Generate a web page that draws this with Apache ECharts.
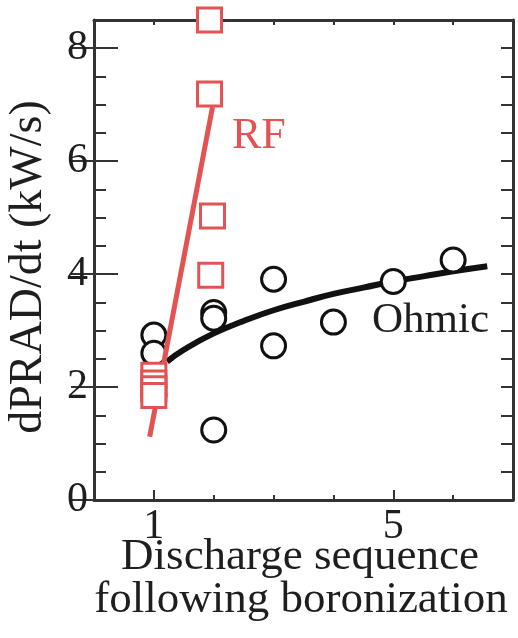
<!DOCTYPE html>
<html>
<head>
<meta charset="utf-8">
<script src="https://cdn.jsdelivr.net/npm/echarts@6/dist/echarts.min.js"></script>
<style>
html,body{margin:0;padding:0;background:#fff;}
#c{width:518px;height:638px;}
</style>
</head>
<body>
<div id="c"></div>
<script>
// Ohmic measurements (open circles)
var ohmicX = [1, 1, 1, 2, 2, 2, 3, 3, 4, 5, 6];
var ohmicY = [2.92, 2.6, 1.86, 3.32, 3.22, 1.24, 3.91, 2.73, 3.15, 3.87, 4.25];
// RF measurements (open squares)
var rfX = [1, 1, 1, 1, 1.93, 1.93, 1.98, 1.95];
var rfY = [2.21, 2.07, 1.97, 1.85, 8.5, 7.19, 5.03, 3.98];
// Ohmic fit curve
var ohmicFitX = [1.22, 1.5, 2, 2.5, 3, 3.5, 4, 4.5, 5, 5.5, 6, 6.57];
var ohmicFitY = [2.45, 2.66, 2.95, 3.17, 3.36, 3.51, 3.65, 3.76, 3.87, 3.96, 4.05, 4.14];
// RF fit line
var rfFitX = [0.93, 1.98];
var rfFitY = [1.12, 6.96];
// tick labels
var xTickLabels = [1, 5];
var yTickLabels = [0, 2, 4, 6, 8];

var FONT = '"Liberation Serif", "Times New Roman", serif';
var AX = '#333333';
var RED = '#e35353';
var INK = '#1e1e1e';

function zip(a, b) { return a.map(function (v, i) { return [v, b[i]]; }); }

var chart = echarts.init(document.getElementById('c'), null, {renderer: 'canvas'});

var baseX = {type: 'value', min: 0, max: 7, interval: 1, splitLine: {show: false}};
var baseY = {type: 'value', min: 0, max: 8.5, interval: 0.5, splitLine: {show: false}};

var option = {
  animation: false,
  backgroundColor: '#ffffff',
  grid: {left: 94, right: 5, top: 20, bottom: 138, containLabel: false},
  xAxis: [
    Object.assign({}, baseX, {
      position: 'bottom',
      axisLine: {show: true, onZero: false, lineStyle: {color: AX, width: 3}},
      axisTick: {show: true, inside: true, length: 5, lineStyle: {color: AX, width: 2}},
      axisLabel: {show: true, customValues: xTickLabels, fontSize: 42, fontFamily: FONT, color: INK, margin: 6}
    }),
    Object.assign({}, baseX, {
      position: 'bottom',
      axisLine: {show: false},
      axisTick: {show: true, inside: true, length: 10, customValues: xTickLabels, lineStyle: {color: AX, width: 2}},
      axisLabel: {show: false}
    }),
    Object.assign({}, baseX, {
      position: 'top',
      axisLine: {show: true, onZero: false, lineStyle: {color: AX, width: 3}},
      axisTick: {show: true, inside: true, length: 5, lineStyle: {color: AX, width: 2}},
      axisLabel: {show: false}
    })
  ],
  yAxis: [
    Object.assign({}, baseY, {
      position: 'left',
      axisLine: {show: true, onZero: false, lineStyle: {color: AX, width: 3}},
      axisTick: {show: true, inside: true, length: 12, lineStyle: {color: AX, width: 2}},
      axisLabel: {show: true, customValues: yTickLabels, fontSize: 42, fontFamily: FONT, color: INK, margin: 6}
    }),
    Object.assign({}, baseY, {
      position: 'left',
      axisLine: {show: false},
      axisTick: {show: true, inside: true, length: 24, customValues: yTickLabels, lineStyle: {color: AX, width: 2}},
      axisLabel: {show: false}
    }),
    Object.assign({}, baseY, {
      position: 'right',
      axisLine: {show: true, onZero: false, lineStyle: {color: AX, width: 3}},
      axisTick: {show: true, inside: true, length: 12, lineStyle: {color: AX, width: 2}},
      axisLabel: {show: false}
    }),
    Object.assign({}, baseY, {
      position: 'right',
      axisLine: {show: false},
      axisTick: {show: true, inside: true, length: 23, customValues: yTickLabels, lineStyle: {color: AX, width: 2}},
      axisLabel: {show: false}
    })
  ],
  series: [
    {
      name: 'Ohmic fit', type: 'line', z: 2, smooth: true,
      data: zip(ohmicFitX, ohmicFitY), showSymbol: false, symbol: 'none',
      lineStyle: {color: '#111111', width: 6}
    },
    {
      name: 'Ohmic', type: 'scatter', z: 3, clip: false,
      data: zip(ohmicX, ohmicY), symbol: 'circle', symbolSize: 24,
      itemStyle: {color: '#ffffff', borderColor: '#111111', borderWidth: 3, opacity: 1}
    },
    {
      name: 'RF fit', type: 'line', z: 4,
      data: zip(rfFitX, rfFitY), showSymbol: false, symbol: 'none',
      lineStyle: {color: RED, width: 5}
    },
    {
      name: 'RF', type: 'scatter', z: 5, clip: false,
      data: zip(rfX, rfY), symbol: 'rect', symbolSize: 24,
      itemStyle: {color: '#ffffff', borderColor: RED, borderWidth: 3, opacity: 1}
    }
  ],
  graphic: [
    {type: 'text', x: 232, y: 158, z: 10,
     style: {text: 'RF', font: '44px ' + FONT, fill: RED, textAlign: 'left', textVerticalAlign: 'bottom'}},
    {type: 'text', x: 372, y: 342, z: 10,
     style: {text: 'Ohmic', font: '43px ' + FONT, fill: INK, textAlign: 'left', textVerticalAlign: 'bottom'}},
    {type: 'text', x: 300, y: 557, z: 10,
     style: {text: 'Discharge sequence', font: '45px ' + FONT, fill: INK, textAlign: 'center', textVerticalAlign: 'middle'}},
    {type: 'text', x: 301, y: 600, z: 10,
     style: {text: 'following boronization', font: '45px ' + FONT, fill: INK, textAlign: 'center', textVerticalAlign: 'middle'}},
    {type: 'text', x: 29, y: 267, rotation: Math.PI / 2, z: 10,
     style: {text: 'dPRAD/dt (kW/s)', font: '46px ' + FONT, fill: INK, textAlign: 'center', textVerticalAlign: 'middle'}}
  ]
};
chart.setOption(option);
</script>
</body>
</html>
